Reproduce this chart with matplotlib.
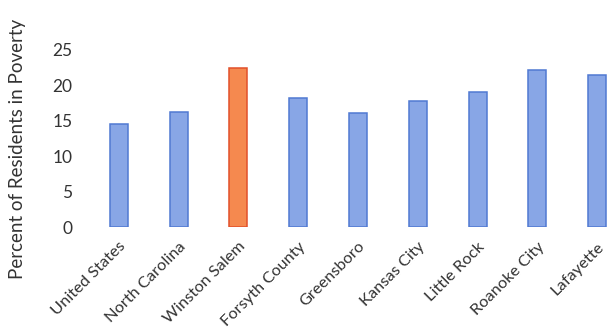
import matplotlib.pyplot as plt

places = ["United States", "North Carolina", "Winston Salem", "Forsyth County",
          "Greensboro", "Kansas City", "Little Rock", "Roanoke City", "Lafayette"]
poverty = [14.6, 16.3, 22.4, 18.2, 16.1, 17.8, 19.0, 22.2, 21.5]
yticks = [0, 5, 10, 15, 20, 25]

blue_fill, blue_edge = "#88a6e6", "#5079d2"
orange_fill, orange_edge = "#f5894f", "#e2502a"

plt.rcParams["font.family"] = ["Lato", "DejaVu Sans"]

fig = plt.figure(figsize=(6.08, 3.35), dpi=100)
ax = fig.add_axes([89 / 608, 1 - 227 / 335, 538 / 608, 177 / 335])

x = list(range(len(places)))
fills = [orange_fill if p == "Winston Salem" else blue_fill for p in places]
edges = [orange_edge if p == "Winston Salem" else blue_edge for p in places]
ax.bar(x, poverty, width=0.3, color=fills, edgecolor=edges, linewidth=1.1)

ax.set_xlim(-0.5, len(places) - 0.5)
ax.set_ylim(0, 25)
ax.set_yticks(yticks)
ax.set_xticks(x)
ax.set_xticklabels(places, rotation=45, ha="right", rotation_mode="anchor",
                   fontsize=11.8, color="#333333")
ax.tick_params(axis="y", labelsize=12.5, colors="#333333", length=0, pad=12)
ax.tick_params(axis="x", length=0, pad=9)
for s in ax.spines.values():
    s.set_visible(False)

ax.set_ylabel("Percent of Residents in Poverty", fontsize=13.5, color="#333333")
ax.yaxis.set_label_coords(-0.118, 0.44)

fig.savefig("out.png", dpi=100)
